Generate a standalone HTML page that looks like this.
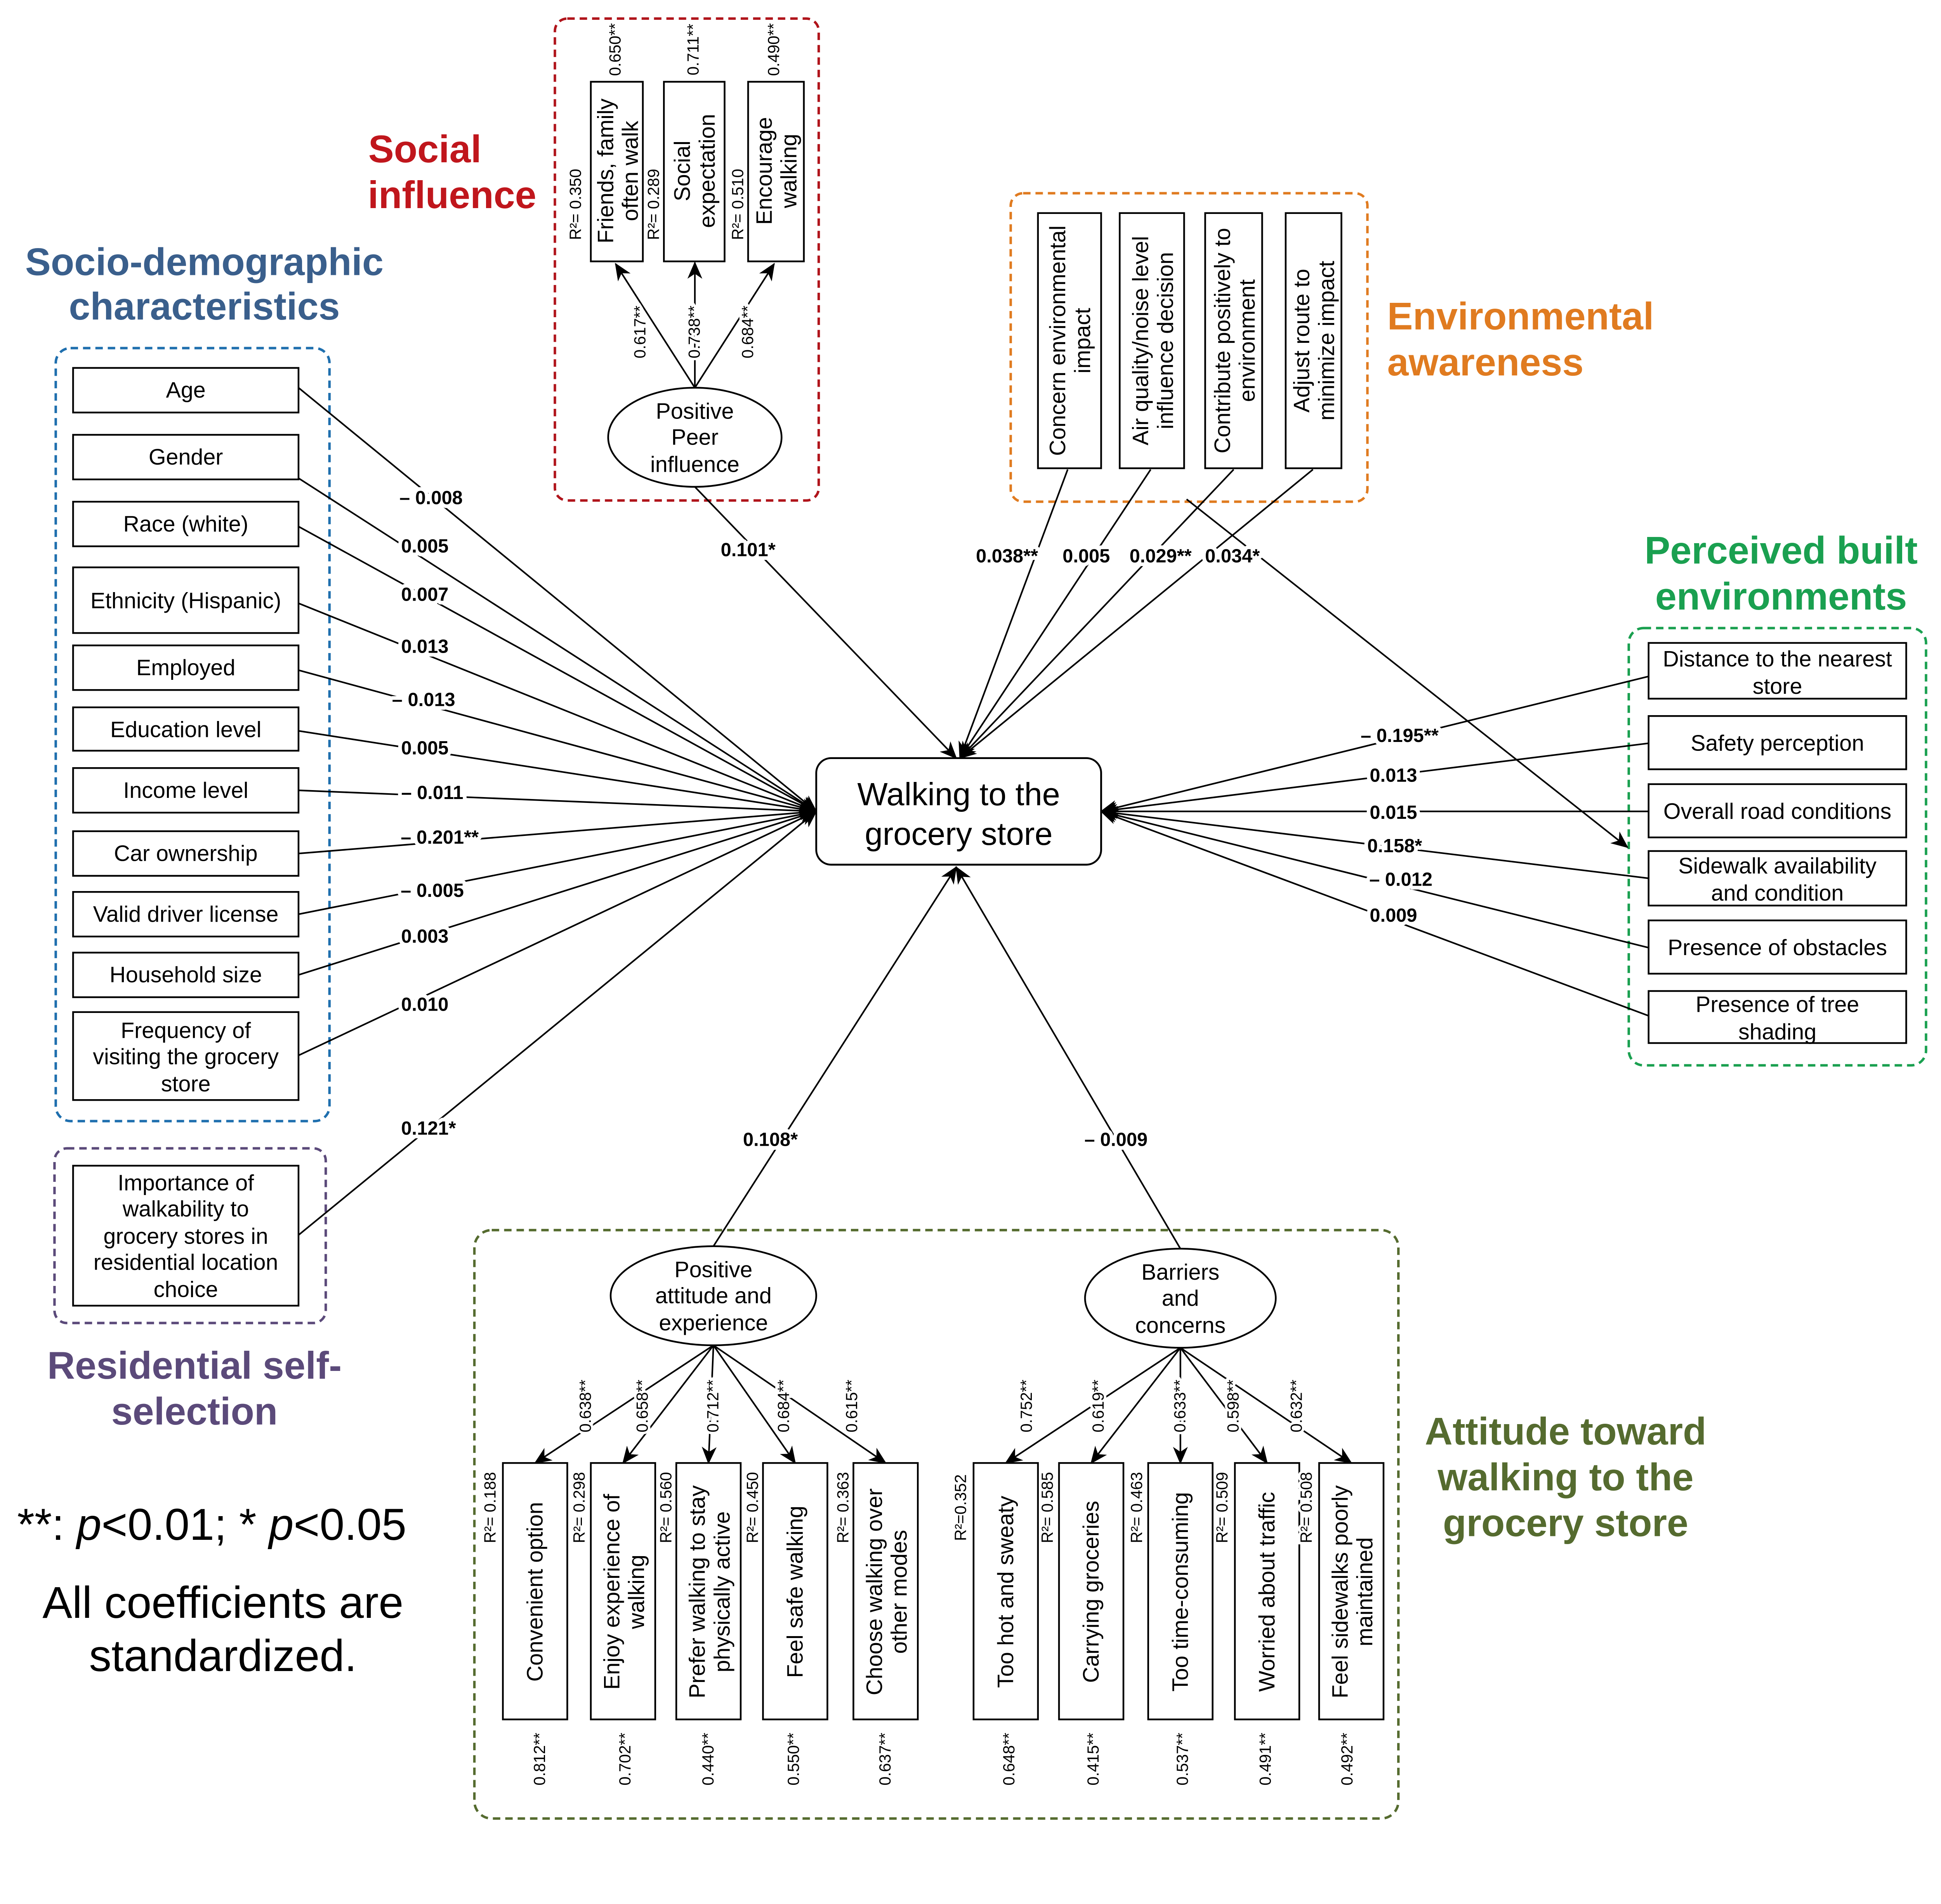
<!DOCTYPE html>
<html><head><meta charset="utf-8"><style>
html,body{margin:0;padding:0;background:#fff}
svg{display:block}
text{font-family:"Liberation Sans",Arial,sans-serif;fill:#000}
.b{font-size:18px}
.c{font-size:15.3px;font-weight:bold;stroke:#fff;stroke-width:6px;paint-order:stroke;stroke-linejoin:round}
.s{font-size:13px;stroke:#fff;stroke-width:4px;paint-order:stroke}
.t{font-size:31px;font-weight:bold}
line,path.l{stroke:#000;stroke-width:1.3;fill:none}
rect.bx{fill:#fff;stroke:#000;stroke-width:1.4}
</style></head><body>
<svg width="5188" height="4904" viewBox="0 0 1626 1537" xmlns="http://www.w3.org/2000/svg">
<defs><marker id="a" markerUnits="userSpaceOnUse" markerWidth="14" markerHeight="12" refX="13" refY="6" orient="auto"><path d="M0,0 L14,6 L0,12 L4,6 Z" fill="#000"/></marker></defs>
<rect width="1626" height="1537" fill="#fff"/>

<rect x="45" y="281" width="221" height="624" rx="12" fill="none" stroke="#1f6fae" stroke-width="2" stroke-dasharray="6,4"/>
<rect x="44" y="927" width="219" height="141" rx="10" fill="none" stroke="#5b4a7a" stroke-width="2" stroke-dasharray="6,4"/>
<rect x="448" y="15" width="213" height="389" rx="10" fill="none" stroke="#b0141b" stroke-width="2" stroke-dasharray="6,4"/>
<rect x="816" y="156" width="288" height="249" rx="10" fill="none" stroke="#e07b20" stroke-width="2" stroke-dasharray="6,4"/>
<rect x="1315" y="507" width="240" height="353" rx="12" fill="none" stroke="#1aa050" stroke-width="2" stroke-dasharray="6,4"/>
<rect x="383" y="993" width="746" height="475" rx="14" fill="none" stroke="#556b2f" stroke-width="2" stroke-dasharray="6,4"/>

<text class="t" x="165" y="222" text-anchor="middle" style="fill:#3a5f8c">Socio-demographic</text>
<text class="t" x="165" y="258" text-anchor="middle" style="fill:#3a5f8c">characteristics</text>
<text class="t" x="343" y="131" text-anchor="middle" style="fill:#c0161c">Social</text>
<text class="t" x="365" y="168" text-anchor="middle" style="fill:#c0161c">influence</text>
<text class="t" x="1120" y="266" style="fill:#e07b20">Environmental</text>
<text class="t" x="1120" y="303" style="fill:#e07b20">awareness</text>
<text class="t" x="1438" y="455" text-anchor="middle" style="fill:#1aa050">Perceived built</text>
<text class="t" x="1438" y="492" text-anchor="middle" style="fill:#1aa050">environments</text>
<text class="t" x="157" y="1113" text-anchor="middle" style="fill:#5b4a7a">Residential self-</text>
<text class="t" x="157" y="1150" text-anchor="middle" style="fill:#5b4a7a">selection</text>
<text class="t" x="1264" y="1166" text-anchor="middle" style="fill:#556b2f">Attitude toward</text>
<text class="t" x="1264" y="1203" text-anchor="middle" style="fill:#556b2f">walking to the</text>
<text class="t" x="1264" y="1240" text-anchor="middle" style="fill:#556b2f">grocery store</text>

<text x="171" y="1243" text-anchor="middle" style="font-size:36px">**: <tspan font-style="italic">p</tspan>&lt;0.01; * <tspan font-style="italic">p</tspan>&lt;0.05</text>
<text x="180" y="1306" text-anchor="middle" style="font-size:36px">All coefficients are</text>
<text x="180" y="1349" text-anchor="middle" style="font-size:36px">standardized.</text>

<g>
<line x1="241" y1="313" x2="659" y2="655" marker-end="url(#a)"/>
<line x1="241" y1="386" x2="659" y2="655" marker-end="url(#a)"/>
<line x1="241" y1="425" x2="659" y2="655" marker-end="url(#a)"/>
<line x1="241" y1="487" x2="659" y2="655" marker-end="url(#a)"/>
<line x1="241" y1="541" x2="659" y2="655" marker-end="url(#a)"/>
<line x1="241" y1="590" x2="659" y2="655" marker-end="url(#a)"/>
<line x1="241" y1="638" x2="659" y2="655" marker-end="url(#a)"/>
<line x1="241" y1="689" x2="659" y2="655" marker-end="url(#a)"/>
<line x1="241" y1="738" x2="659" y2="655" marker-end="url(#a)"/>
<line x1="241" y1="787" x2="659" y2="655" marker-end="url(#a)"/>
<line x1="241" y1="852" x2="659" y2="655" marker-end="url(#a)"/>
<line x1="241" y1="997" x2="659" y2="655" marker-end="url(#a)"/>
<line x1="1331" y1="546" x2="889" y2="655" marker-end="url(#a)"/>
<line x1="1331" y1="600" x2="889" y2="655" marker-end="url(#a)"/>
<line x1="1331" y1="655" x2="889" y2="655" marker-end="url(#a)"/>
<line x1="1331" y1="709" x2="889" y2="655" marker-end="url(#a)"/>
<line x1="1331" y1="765" x2="889" y2="655" marker-end="url(#a)"/>
<line x1="1331" y1="820" x2="889" y2="655" marker-end="url(#a)"/>
<line x1="561" y1="393" x2="772" y2="612" marker-end="url(#a)"/>
<line x1="862" y1="379" x2="775" y2="612" marker-end="url(#a)"/>
<line x1="929" y1="379" x2="775" y2="612" marker-end="url(#a)"/>
<line x1="996" y1="379" x2="775" y2="612" marker-end="url(#a)"/>
<line x1="1060" y1="379" x2="775" y2="612" marker-end="url(#a)"/>
<line x1="958" y1="403" x2="1314" y2="684" marker-end="url(#a)"/>
<line x1="576" y1="1006" x2="772" y2="700" marker-end="url(#a)"/>
<line x1="953" y1="1008" x2="772" y2="700" marker-end="url(#a)"/>
<line x1="561" y1="313" x2="497" y2="213" marker-end="url(#a)"/>
<line x1="561" y1="313" x2="561" y2="212" marker-end="url(#a)"/>
<line x1="561" y1="313" x2="625" y2="213" marker-end="url(#a)"/>
<line x1="576" y1="1086" x2="432" y2="1181" marker-end="url(#a)"/>
<line x1="576" y1="1086" x2="503" y2="1181" marker-end="url(#a)"/>
<line x1="576" y1="1086" x2="572" y2="1181" marker-end="url(#a)"/>
<line x1="576" y1="1086" x2="642" y2="1181" marker-end="url(#a)"/>
<line x1="576" y1="1086" x2="715" y2="1181" marker-end="url(#a)"/>
<line x1="953" y1="1088" x2="812" y2="1181" marker-end="url(#a)"/>
<line x1="953" y1="1088" x2="881" y2="1181" marker-end="url(#a)"/>
<line x1="953" y1="1088" x2="953" y2="1181" marker-end="url(#a)"/>
<line x1="953" y1="1088" x2="1023" y2="1181" marker-end="url(#a)"/>
<line x1="953" y1="1088" x2="1091" y2="1181" marker-end="url(#a)"/>
</g>

<rect x="659" y="612" width="230" height="86" rx="12" fill="#fff" stroke="#000" stroke-width="1.5"/>
<text x="774" y="650" text-anchor="middle" style="font-size:26px">Walking to the</text>
<text x="774" y="682" text-anchor="middle" style="font-size:26px">grocery store</text>

<g class="b" text-anchor="middle">
<rect class="bx" x="59" y="297" width="182" height="36"/><text class="b" x="150" y="321">Age</text>
<rect class="bx" x="59" y="351" width="182" height="36"/><text class="b" x="150" y="375">Gender</text>
<rect class="bx" x="59" y="405" width="182" height="36"/><text class="b" x="150" y="429">Race (white)</text>
<rect class="bx" x="59" y="458" width="182" height="53"/><text class="b" x="150" y="491">Ethnicity (Hispanic)</text>
<rect class="bx" x="59" y="521" width="182" height="36"/><text class="b" x="150" y="545">Employed</text>
<rect class="bx" x="59" y="571" width="182" height="35"/><text class="b" x="150" y="595">Education level</text>
<rect class="bx" x="59" y="620" width="182" height="36"/><text class="b" x="150" y="644">Income level</text>
<rect class="bx" x="59" y="671" width="182" height="36"/><text class="b" x="150" y="695">Car ownership</text>
<rect class="bx" x="59" y="720" width="182" height="36"/><text class="b" x="150" y="744">Valid driver license</text>
<rect class="bx" x="59" y="769" width="182" height="36"/><text class="b" x="150" y="793">Household size</text>
<rect class="bx" x="59" y="817" width="182" height="71"/>
<text class="b" x="150" y="838">Frequency of</text><text class="b" x="150" y="859">visiting the grocery</text><text class="b" x="150" y="881">store</text>
<rect class="bx" x="59" y="941" width="182" height="113"/>
<text class="b" x="150" y="961">Importance of</text><text class="b" x="150" y="982">walkability to</text><text class="b" x="150" y="1004">grocery stores in</text><text class="b" x="150" y="1025">residential location</text><text class="b" x="150" y="1047">choice</text>
<rect class="bx" x="1331" y="519" width="208" height="45"/><text class="b" x="1435" y="538">Distance to the nearest</text><text class="b" x="1435" y="560">store</text>
<rect class="bx" x="1331" y="578" width="208" height="43"/><text class="b" x="1435" y="606">Safety perception</text>
<rect class="bx" x="1331" y="633" width="208" height="43"/><text class="b" x="1435" y="661">Overall road conditions</text>
<rect class="bx" x="1331" y="687" width="208" height="44"/><text class="b" x="1435" y="705">Sidewalk availability</text><text class="b" x="1435" y="727">and condition</text>
<rect class="bx" x="1331" y="743" width="208" height="43"/><text class="b" x="1435" y="771">Presence of obstacles</text>
<rect class="bx" x="1331" y="800" width="208" height="42"/><text class="b" x="1435" y="817">Presence of tree</text><text class="b" x="1435" y="839">shading</text>
</g>

<ellipse cx="561" cy="353" rx="70" ry="40" fill="#fff" stroke="#000" stroke-width="1.4"/>
<text class="b" x="561" y="338" text-anchor="middle">Positive</text><text class="b" x="561" y="359" text-anchor="middle">Peer</text><text class="b" x="561" y="381" text-anchor="middle">influence</text>
<ellipse cx="576" cy="1046" rx="83" ry="40" fill="#fff" stroke="#000" stroke-width="1.4"/>
<text class="b" x="576" y="1031" text-anchor="middle">Positive</text><text class="b" x="576" y="1052" text-anchor="middle">attitude and</text><text class="b" x="576" y="1074" text-anchor="middle">experience</text>
<ellipse cx="953" cy="1048" rx="77" ry="40" fill="#fff" stroke="#000" stroke-width="1.4"/>
<text class="b" x="953" y="1033" text-anchor="middle">Barriers</text><text class="b" x="953" y="1054" text-anchor="middle">and</text><text class="b" x="953" y="1076" text-anchor="middle">concerns</text>

<rect class="bx" x="477" y="66" width="42" height="145"/>
<rect class="bx" x="536" y="66" width="49" height="145"/>
<rect class="bx" x="604" y="66" width="45" height="145"/>
<g text-anchor="middle">
<text class="b" transform="translate(498,138) rotate(-90)"><tspan x="0" y="-3">Friends, family</tspan><tspan x="0" y="17">often walk</tspan></text>
<text class="b" transform="translate(560,138) rotate(-90)"><tspan x="0" y="-3">Social</tspan><tspan x="0" y="17">expectation</tspan></text>
<text class="b" transform="translate(626,138) rotate(-90)"><tspan x="0" y="-3">Encourage</tspan><tspan x="0" y="17">walking</tspan></text>
</g>
<rect class="bx" x="838" y="172" width="51" height="206"/>
<rect class="bx" x="904" y="172" width="52" height="206"/>
<rect class="bx" x="973" y="172" width="46" height="206"/>
<rect class="bx" x="1038" y="172" width="45" height="206"/>
<g text-anchor="middle">
<text class="b" transform="translate(863,275) rotate(-90)"><tspan x="0" y="-3">Concern environmental</tspan><tspan x="0" y="17">impact</tspan></text>
<text class="b" transform="translate(930,275) rotate(-90)"><tspan x="0" y="-3">Air quality/noise level</tspan><tspan x="0" y="17">influence decision</tspan></text>
<text class="b" transform="translate(996,275) rotate(-90)"><tspan x="0" y="-3">Contribute positively to</tspan><tspan x="0" y="17">environment</tspan></text>
<text class="b" transform="translate(1060,275) rotate(-90)"><tspan x="0" y="-3">Adjust route to</tspan><tspan x="0" y="17">minimize impact</tspan></text>
</g>
<g>
<rect class="bx" x="406" y="1181" width="52" height="207"/>
<rect class="bx" x="477" y="1181" width="52" height="207"/>
<rect class="bx" x="546" y="1181" width="52" height="207"/>
<rect class="bx" x="616" y="1181" width="52" height="207"/>
<rect class="bx" x="689" y="1181" width="52" height="207"/>
<rect class="bx" x="786" y="1181" width="52" height="207"/>
<rect class="bx" x="855" y="1181" width="52" height="207"/>
<rect class="bx" x="927" y="1181" width="52" height="207"/>
<rect class="bx" x="997" y="1181" width="52" height="207"/>
<rect class="bx" x="1065" y="1181" width="52" height="207"/>
</g>
<g text-anchor="middle">
<text class="b" transform="translate(432,1285) rotate(-90)"><tspan x="0" y="6">Convenient option</tspan></text>
<text class="b" transform="translate(503,1285) rotate(-90)"><tspan x="0" y="-3">Enjoy experience of</tspan><tspan x="0" y="17">walking</tspan></text>
<text class="b" transform="translate(572,1285) rotate(-90)"><tspan x="0" y="-3">Prefer walking to stay</tspan><tspan x="0" y="17">physically active</tspan></text>
<text class="b" transform="translate(642,1285) rotate(-90)"><tspan x="0" y="6">Feel safe walking</tspan></text>
<text class="b" transform="translate(715,1285) rotate(-90)"><tspan x="0" y="-3">Choose walking over</tspan><tspan x="0" y="17">other modes</tspan></text>
<text class="b" transform="translate(812,1285) rotate(-90)"><tspan x="0" y="6">Too hot and sweaty</tspan></text>
<text class="b" transform="translate(881,1285) rotate(-90)"><tspan x="0" y="6">Carrying groceries</tspan></text>
<text class="b" transform="translate(953,1285) rotate(-90)"><tspan x="0" y="6">Too time-consuming</tspan></text>
<text class="b" transform="translate(1023,1285) rotate(-90)"><tspan x="0" y="6">Worried about traffic</tspan></text>
<text class="b" transform="translate(1091,1285) rotate(-90)"><tspan x="0" y="-3">Feel sidewalks poorly</tspan><tspan x="0" y="17">maintained</tspan></text>
</g>

<g text-anchor="middle">
<text class="c" x="348" y="407">– 0.008</text>
<text class="c" x="343" y="446">0.005</text>
<text class="c" x="343" y="485">0.007</text>
<text class="c" x="343" y="527">0.013</text>
<text class="c" x="342" y="570">– 0.013</text>
<text class="c" x="343" y="609">0.005</text>
<text class="c" x="349" y="645">– 0.011</text>
<text class="c" x="355" y="681">– 0.201**</text>
<text class="c" x="349" y="724">– 0.005</text>
<text class="c" x="343" y="761">0.003</text>
<text class="c" x="343" y="816">0.010</text>
<text class="c" x="346" y="916">0.121*</text>
<text class="c" x="604" y="449">0.101*</text>
<text class="c" x="813" y="454">0.038**</text>
<text class="c" x="877" y="454">0.005</text>
<text class="c" x="937" y="454">0.029**</text>
<text class="c" x="995" y="454">0.034*</text>
<text class="c" x="1130" y="599">– 0.195**</text>
<text class="c" x="1125" y="631">0.013</text>
<text class="c" x="1125" y="661">0.015</text>
<text class="c" x="1126" y="688">0.158*</text>
<text class="c" x="1131" y="715">– 0.012</text>
<text class="c" x="1125" y="744">0.009</text>
<text class="c" x="622" y="925">0.108*</text>
<text class="c" x="901" y="925">– 0.009</text>
</g>

<g text-anchor="middle">
<text class="s" transform="translate(501,40) rotate(-90)">0.650**</text>
<text class="s" transform="translate(564,40) rotate(-90)">0.711**</text>
<text class="s" transform="translate(629,40) rotate(-90)">0.490**</text>
<text class="s" transform="translate(469,165) rotate(-90)">R²= 0.350</text>
<text class="s" transform="translate(532,165) rotate(-90)">R²= 0.289</text>
<text class="s" transform="translate(600,165) rotate(-90)">R²= 0.510</text>
<text class="s" transform="translate(521,268) rotate(-90)">0.617**</text>
<text class="s" transform="translate(565,268) rotate(-90)">0.738**</text>
<text class="s" transform="translate(608,268) rotate(-90)">0.684**</text>

<text class="s" transform="translate(477,1135) rotate(-90)">0.638**</text>
<text class="s" transform="translate(523,1135) rotate(-90)">0.658**</text>
<text class="s" transform="translate(580,1135) rotate(-90)">0.712**</text>
<text class="s" transform="translate(637,1135) rotate(-90)">0.684**</text>
<text class="s" transform="translate(692,1135) rotate(-90)">0.615**</text>
<text class="s" transform="translate(833,1135) rotate(-90)">0.752**</text>
<text class="s" transform="translate(891,1135) rotate(-90)">0.619**</text>
<text class="s" transform="translate(957,1135) rotate(-90)">0.633**</text>
<text class="s" transform="translate(1000,1135) rotate(-90)">0.598**</text>
<text class="s" transform="translate(1051,1135) rotate(-90)">0.632**</text>

<text class="s" transform="translate(400,1217) rotate(-90)">R²= 0.188</text>
<text class="s" transform="translate(472,1217) rotate(-90)">R²= 0.298</text>
<text class="s" transform="translate(542,1217) rotate(-90)">R²= 0.560</text>
<text class="s" transform="translate(612,1217) rotate(-90)">R²= 0.450</text>
<text class="s" transform="translate(685,1217) rotate(-90)">R²= 0.363</text>
<text class="s" transform="translate(780,1217) rotate(-90)">R²=0.352</text>
<text class="s" transform="translate(850,1217) rotate(-90)">R²= 0.585</text>
<text class="s" transform="translate(922,1217) rotate(-90)">R²= 0.463</text>
<text class="s" transform="translate(991,1217) rotate(-90)">R²= 0.509</text>
<text class="s" transform="translate(1059,1217) rotate(-90)">R²= 0.508</text>

<text class="s" transform="translate(440,1420) rotate(-90)">0.812**</text>
<text class="s" transform="translate(509,1420) rotate(-90)">0.702**</text>
<text class="s" transform="translate(576,1420) rotate(-90)">0.440**</text>
<text class="s" transform="translate(645,1420) rotate(-90)">0.550**</text>
<text class="s" transform="translate(719,1420) rotate(-90)">0.637**</text>
<text class="s" transform="translate(819,1420) rotate(-90)">0.648**</text>
<text class="s" transform="translate(887,1420) rotate(-90)">0.415**</text>
<text class="s" transform="translate(959,1420) rotate(-90)">0.537**</text>
<text class="s" transform="translate(1026,1420) rotate(-90)">0.491**</text>
<text class="s" transform="translate(1092,1420) rotate(-90)">0.492**</text>
</g>
</svg>
</body></html>
